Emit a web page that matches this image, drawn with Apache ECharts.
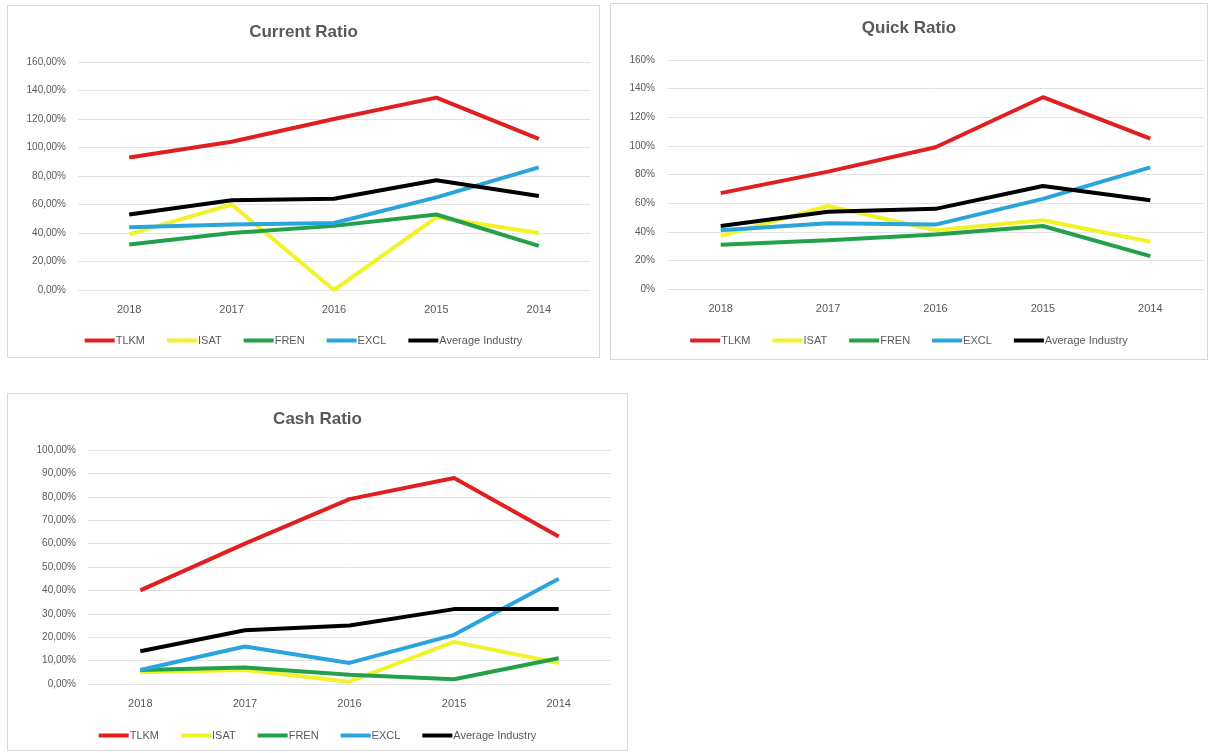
<!DOCTYPE html>
<html>
<head>
<meta charset="utf-8">
<script src="https://cdn.jsdelivr.net/npm/echarts@6/dist/echarts.min.js"></script>
<style>
  html, body { margin: 0; padding: 0; background: #ffffff; width: 1210px; height: 753px; overflow: hidden; }
  .panel { position: absolute; box-sizing: border-box; border: 1px solid #d9d9d9; background: #fff; }
</style>
</head>
<body>
<div id="c1" class="panel" style="left:7px; top:5px; width:593px; height:353px;"></div>
<div id="c2" class="panel" style="left:610px; top:3px; width:598px; height:357px;"></div>
<div id="c3" class="panel" style="left:7px; top:393px; width:621px; height:358px;"></div>
<script>
// Shared categories and series names
const years = ['2018', '2017', '2016', '2015', '2014'];
const seriesNames = ['TLKM', 'ISAT', 'FREN', 'EXCL', 'Average Industry'];
const seriesColors = ['#e02020', '#f2f22a', '#23a04a', '#2aa4dc', '#000000'];

// Current Ratio (%)
const currentTLKM = [93, 104, 120, 135, 106];
const currentISAT = [39, 60, 0, 51, 40];
const currentFREN = [32, 40, 45, 53, 31];
const currentEXCL = [44, 46, 47, 65, 86];
const currentAvg  = [53, 63, 64, 77, 66];
const currentTicks = { min: 0, max: 160, interval: 20 };

// Quick Ratio (%)
const quickTLKM = [67, 82, 99, 134, 105];
const quickISAT = [37, 58, 41, 48, 33];
const quickFREN = [31, 34, 38, 44, 23];
const quickEXCL = [41, 46, 45, 63, 85];
const quickAvg  = [44, 54, 56, 72, 62];
const quickTicks = { min: 0, max: 160, interval: 20 };

// Cash Ratio (%)
const cashTLKM = [40, 60, 79, 88, 63];
const cashISAT = [5, 6, 1, 18, 9];
const cashFREN = [6, 7, 4, 2, 11];
const cashEXCL = [6, 16, 9, 21, 45];
const cashAvg  = [14, 23, 25, 32, 32];
const cashTicks = { min: 0, max: 100, interval: 10 };

const FONT = 'Liberation Sans';

function makeOption(title, seriesData, ticks, fmt, layout) {
  return {
    animation: false,
    textStyle: { fontFamily: FONT },
    title: {
      text: title,
      left: 'center',
      top: layout.titleTop,
      textStyle: { fontFamily: FONT, fontSize: 17, fontWeight: 'bold', color: '#595959' }
    },
    legend: {
      data: seriesNames,
      bottom: layout.legendBottom,
      left: 'center',
      icon: 'rect',
      itemWidth: 30,
      itemHeight: 4,
      itemGap: 22,
      textStyle: { fontFamily: FONT, fontSize: 11, color: '#595959', padding: [0, 0, 0, -4] }
    },
    grid: { left: layout.left, right: layout.right, top: layout.top, bottom: layout.bottom, containLabel: false },
    xAxis: {
      type: 'category',
      data: years,
      boundaryGap: true,
      axisLine: { show: false },
      axisTick: { show: false },
      axisLabel: { color: '#595959', fontSize: 11, fontFamily: FONT, margin: 14 },
      splitLine: { show: false }
    },
    yAxis: {
      type: 'value',
      min: ticks.min,
      max: ticks.max,
      interval: ticks.interval,
      axisLine: { show: false },
      axisTick: { show: false },
      axisLabel: { color: '#595959', fontSize: 10, fontFamily: FONT, margin: 12, formatter: fmt },
      splitLine: { lineStyle: { color: '#e3e3e3', width: 1 } }
    },
    series: seriesNames.map((n, i) => ({
      name: n,
      type: 'line',
      data: seriesData[i],
      symbol: 'none',
      lineStyle: { width: 4, color: seriesColors[i] },
      itemStyle: { color: seriesColors[i] }
    }))
  };
}

const fmtDec = v => v + ',00%';
const fmtInt = v => v + '%';

const ch1 = echarts.init(document.getElementById('c1'));
ch1.setOption(makeOption('Current Ratio',
  [currentTLKM, currentISAT, currentFREN, currentEXCL, currentAvg],
  currentTicks, fmtDec,
  { titleTop: 13, left: 70, right: 9, top: 56, bottom: 67, legendBottom: 6 }));

const ch2 = echarts.init(document.getElementById('c2'));
ch2.setOption(makeOption('Quick Ratio',
  [quickTLKM, quickISAT, quickFREN, quickEXCL, quickAvg],
  quickTicks, fmtInt,
  { titleTop: 11, left: 56, right: 3, top: 56, bottom: 70, legendBottom: 8 }));

const ch3 = echarts.init(document.getElementById('c3'));
ch3.setOption(makeOption('Cash Ratio',
  [cashTLKM, cashISAT, cashFREN, cashEXCL, cashAvg],
  cashTicks, fmtDec,
  { titleTop: 12, left: 80, right: 16, top: 56, bottom: 66, legendBottom: 4 }));
</script>
</body>
</html>
